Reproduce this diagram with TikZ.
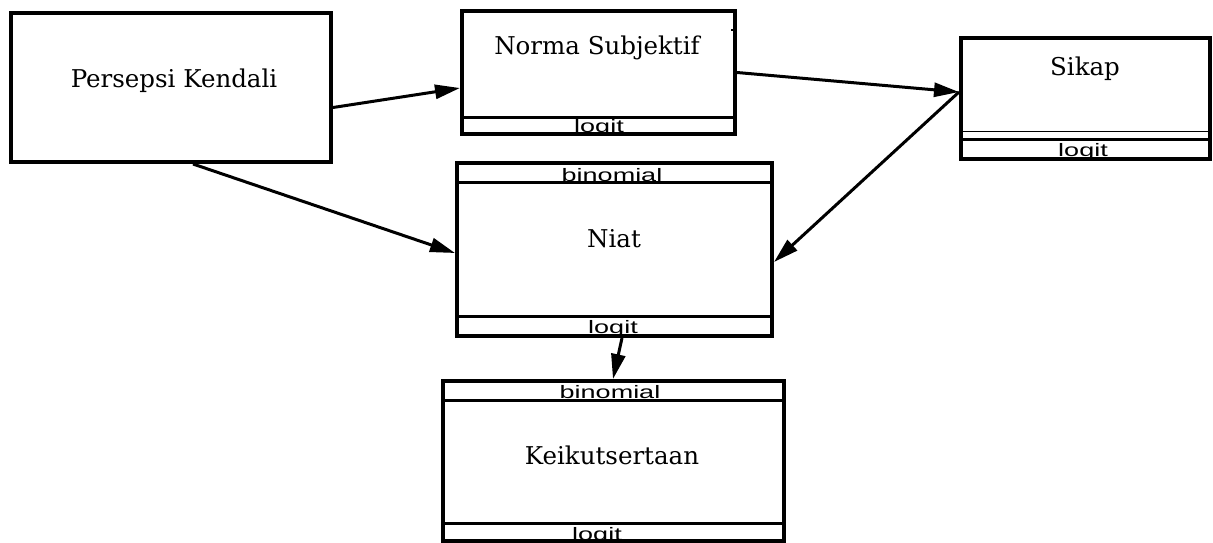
\documentclass[tikz,border=0pt]{standalone}
\usepackage{fontspec}
\setsansfont{Liberation Sans}
\newfontfamily\bigserif{DejaVu Serif}
\usetikzlibrary{arrows.meta}
\newcommand{\stretchlbl}[1]{\scalebox{1.5}[1]{#1}}
\begin{document}
\begin{tikzpicture}[x=1pt,y=-1pt,
  box/.style={draw, line width=4pt, inner sep=0pt},
  maintext/.style={font=\bigserif\fontsize{24.5}{30}\selectfont, anchor=base, inner sep=0pt},
  lab/.style={font=\sffamily\fontsize{18}{20}\selectfont, anchor=base, inner sep=0pt},
  sepline/.style={line width=3pt},
  arr/.style={line width=3pt, -{Triangle[length=25pt,width=14pt]}}]
\useasboundingbox (0,0) rectangle (1213,543);

% boxes
\node[box, minimum width=320pt, minimum height=149pt] (pk) at (171,87.5) {};
\node[box, minimum width=273pt, minimum height=123pt] (ns) at (598.5,72.5) {};
\node[box, minimum width=249pt, minimum height=121pt] (sk) at (1085.5,98.5) {};
\node[box, minimum width=315pt, minimum height=173pt] (ni) at (614.5,249.5) {};
\node[box, minimum width=341pt, minimum height=160pt] (ke) at (613.5,461) {};

% separators
\draw[sepline] ([yshift=19pt]ns.south west) -- ([yshift=19pt]ns.south east);
\draw[sepline] ([yshift=22pt]sk.south west) -- ([yshift=22pt]sk.south east);
\draw[sepline] ([yshift=-21pt]ni.north west) -- ([yshift=-21pt]ni.north east);
\draw[sepline] ([yshift=22pt]ni.south west) -- ([yshift=22pt]ni.south east);
\draw[sepline] ([yshift=-21pt]ke.north west) -- ([yshift=-21pt]ke.north east);
\draw[sepline] ([yshift=20pt]ke.south west) -- ([yshift=20pt]ke.south east);

% details
\draw[line width=0.8pt] ([xshift=2.5pt,yshift=-2.5pt]sk.north west) rectangle ([xshift=-2.5pt,yshift=30pt]sk.south east);
\draw[line width=2.5pt] ([xshift=-6pt,yshift=-21pt]ns.north east) -- ([yshift=-21pt]ns.north east);

% texts
\node[maintext] (tpk) at (174,88) {Persepsi Kendali};
\node[maintext] (tns) at (597,55) {Norma Subjektif};
\node[maintext] (tsk) at (1085,75) {Sikap};
\node[maintext] (tni) at (614,247) {Niat};
\node[maintext] (tke) at (612,464) {Keikutsertaan};

\node[lab] (lns) at (599,132) {\stretchlbl{logit}};
\node[lab] (lsk) at (1083,156) {\stretchlbl{logit}};
\node[lab] (bni) at (612,181) {\stretchlbl{binomial}};
\node[lab] (lni) at (613,333) {\stretchlbl{logit}};
\node[lab] (bke) at (610,398) {\stretchlbl{binomial}};
\node[lab] (lke) at (597,540) {\stretchlbl{logit}};

% arrows
\draw[arr] ([yshift=-20pt]pk.east) -- ([yshift=-15.5pt]ns.west);
\draw[arr] (ns.east) -- ([yshift=6.5pt]sk.west);
\draw[arr] ([xshift=22pt]pk.south) -- ([yshift=-3.5pt]ni.west);
\draw[arr] ([yshift=6.5pt]sk.west) -- ([yshift=-12.5pt]ni.east);
\draw[arr] ([xshift=7.5pt]ni.south) -- ([xshift=-0.5pt]ke.north);
\end{tikzpicture}
\end{document}
